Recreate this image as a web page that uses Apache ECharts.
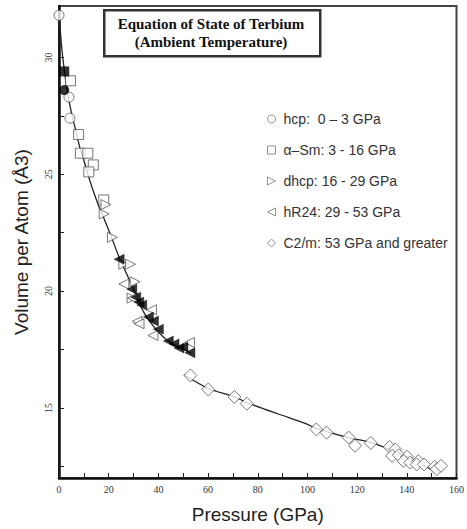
<!DOCTYPE html>
<html>
<head>
<meta charset="utf-8">
<script src="https://cdn.jsdelivr.net/npm/echarts@6/dist/echarts.min.js"></script>
<style>
  html, body { margin: 0; padding: 0; background: #fff; }
  #chart { width: 467px; height: 529px; }
</style>
</head>
<body>
<div id="chart"></div>
<script>
// tick positions / labels
const pressureTicks = [0, 10, 20, 30, 40, 50, 60, 70, 80, 90, 100, 110, 120, 130, 140, 150, 160];
const pressureLabels = [0, 20, 40, 60, 80, 100, 120, 140, 160];
const volumeTicks = [12.5, 15, 17.5, 20, 22.5, 25, 27.5, 30];
const volumeLabels = [15, 20, 25, 30];

// [pressure GPa, volume A^3]
const hcp = [[0, 31.8], [4.0, 28.3], [4.4, 27.4]];
const alphaSm = [[4.6, 29.0], [7.9, 26.7], [8.6, 25.9], [11.6, 25.9], [13.8, 25.4], [12.0, 25.1], [18.0, 23.9]];
const dhcp = [[18.9, 23.7], [18.2, 23.3], [21.5, 22.3], [26.1, 21.15], [28.8, 21.15], [30.6, 20.4], [29.4, 19.7]];
const hR24 = [[26.1, 20.3], [29.6, 19.7], [37.2, 19.2], [31.4, 18.7], [32.2, 18.6], [37.8, 18.1], [52.5, 17.8]];
const c2m = [
  [52.9, 16.39], [60.1, 15.79], [70.6, 15.47], [75.6, 15.18], [103.6, 14.08], [107.7, 13.94],
  [116.6, 13.73], [119.2, 13.38], [125.5, 13.5], [133.1, 13.33], [135.4, 13.22], [134.1, 12.95],
  [136.8, 12.98], [140.1, 12.91], [138.7, 12.72], [141.4, 12.66], [144.6, 12.72], [144.0, 12.58],
  [146.9, 12.58], [151.2, 12.48], [152.0, 12.37], [153.8, 12.52]
];
// filled markers (second data set, no legend entry)
const filledSquare = [[2.1, 29.4]];
const filledCircle = [[2.1, 28.6]];
const filledTri = [
  [24.2, 21.36], [29.3, 20.08], [30.9, 19.74], [32.1, 19.53], [33.3, 19.4], [36.0, 18.89],
  [38.0, 18.72], [40.0, 18.37], [44.0, 17.86], [46.3, 17.74], [48.3, 17.56], [49.9, 17.61], [52.7, 17.36]
];
// fitted curves
const fitLow = [
  [0, 31.89], [1.2, 30.31], [2.4, 29.25], [3.6, 28.39], [5.2, 27.54], [6.7, 26.9], [8.3, 26.18],
  [10.3, 25.49], [12.3, 24.77], [14.3, 24.13], [16.2, 23.58], [18.6, 22.98], [21.0, 22.34],
  [24.2, 21.45], [27.3, 20.72], [30.5, 19.95], [34.1, 19.1], [38.0, 18.5], [42.0, 18.03],
  [45.9, 17.74], [49.9, 17.52], [53.1, 17.35]
];
const fitHigh = [
  [50.3, 16.42], [60.2, 15.83], [70.5, 15.48], [75.6, 15.23], [88, 14.75], [99.4, 14.33],
  [103.8, 14.11], [116.4, 13.73], [125.5, 13.52], [133.9, 13.18], [143.0, 12.75], [151.3, 12.27]
];

const legendNames = [
  'hcp:  0 \u2013 3 GPa',
  '\u03b1\u2013Sm: 3 - 16 GPa',
  'dhcp: 16 - 29 GPa',
  'hR24: 29 - 53 GPa',
  'C2/m: 53 GPa and greater'
];

const triRight = 'path://M0,0L10,5L0,10Z';
const triLeft = 'path://M10,0L0,5L10,10Z';
const openStyle = { color: '#fff', borderColor: '#555', borderWidth: 1 };
const tickFont = { fontFamily: 'Liberation Serif', fontSize: 10, color: '#333' };

function openSeries(name, data, symbol, size) {
  return {
    name, type: 'scatter', data, symbol, symbolSize: size,
    itemStyle: openStyle, z: 3
  };
}

function initChart(dom) {
  const chart = echarts.init(dom, null, { renderer: 'svg' });
  chart.setOption({
    animation: false,
    grid: {
      left: 59, right: 4, top: 6, bottom: 50,
      show: true, borderColor: '#444', borderWidth: 2
    },
    legend: {
      data: legendNames,
      orient: 'vertical',
      left: 262, top: 106,
      itemWidth: 8, itemHeight: 8, itemGap: 15,
      itemStyle: { borderColor: '#777', borderWidth: 1 },
      textStyle: { fontFamily: 'Liberation Sans', fontSize: 14, color: '#333', lineHeight: 16, padding: [0, 0, 0, 3] }
    },
    xAxis: {
      type: 'value', min: 0, max: 160,
      name: 'Pressure (GPa)', nameLocation: 'middle', nameGap: 27,
      nameTextStyle: { fontFamily: 'Liberation Sans', fontSize: 19, color: '#222' },
      axisLine: { lineStyle: { color: '#111', width: 2.5 } },
      axisTick: { inside: true, length: 5, customValues: pressureTicks, lineStyle: { color: '#222' } },
      axisLabel: Object.assign({ customValues: pressureLabels, margin: 6 }, tickFont),
      splitLine: { show: false }
    },
    yAxis: {
      type: 'value', min: 12, max: 32.2,
      name: 'Volume per Atom (\u00c53)', nameLocation: 'middle', nameGap: 28,
      nameTextStyle: { fontFamily: 'Liberation Sans', fontSize: 19, color: '#222' },
      axisLine: { show: true, lineStyle: { color: '#111', width: 2.5 } },
      axisTick: { inside: true, length: 5, customValues: volumeTicks, lineStyle: { color: '#222' } },
      axisLabel: Object.assign({ customValues: volumeLabels, rotate: 90, margin: 6 }, tickFont),
      splitLine: { show: false }
    },
    series: [
      { type: 'line', data: fitLow, showSymbol: false, smooth: 0.3, lineStyle: { color: '#222', width: 1.3 }, z: 2, silent: true },
      { type: 'line', data: fitHigh, showSymbol: false, smooth: 0.3, lineStyle: { color: '#222', width: 1.3 }, z: 2, silent: true },
      openSeries(legendNames[0], hcp, 'circle', 10),
      openSeries(legendNames[1], alphaSm, 'rect', 10),
      openSeries(legendNames[2], dhcp, triRight, 10),
      openSeries(legendNames[3], hR24, triLeft, 10),
      openSeries(legendNames[4], c2m, 'diamond', 13),
      { type: 'scatter', data: filledSquare, symbol: 'rect', symbolSize: 10, itemStyle: { color: '#000' }, z: 4 },
      { type: 'scatter', data: filledCircle, symbol: 'circle', symbolSize: 10, itemStyle: { color: '#000' }, z: 4 },
      { type: 'scatter', data: filledTri, symbol: triLeft, symbolSize: 10, itemStyle: { color: '#000', borderColor: '#000', borderWidth: 0.5 }, z: 4 }
    ],
    graphic: [
      {
        type: 'rect', left: 103, top: 9, z: 10,
        shape: { width: 216, height: 46 },
        style: { fill: '#fff', stroke: '#333', lineWidth: 2.5 }
      },
      {
        type: 'text', x: 211, y: 15, z: 11,
        style: {
          text: 'Equation of State of Terbium\n(Ambient Temperature)',
          align: 'center', verticalAlign: 'top',
          font: 'bold 15px "Liberation Serif"', lineHeight: 18, fill: '#111'
        }
      }
    ]
  });
  return chart;
}

initChart(document.getElementById('chart'));
</script>
</body>
</html>
